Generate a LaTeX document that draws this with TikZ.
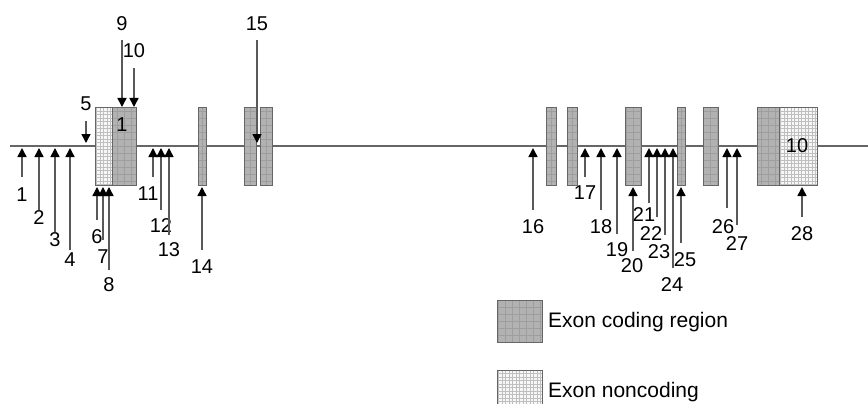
\documentclass[tikz,border=0pt]{standalone}
\usepackage{fontspec}
\setmainfont{Liberation Sans}
\usetikzlibrary{arrows.meta}
\begin{document}
\begin{tikzpicture}[x=1pt,y=-1pt,
  every node/.style={font=\fontsize{20}{22}\selectfont},
  coding/.style={draw=black!60, line width=1pt, fill=black!30, inner sep=0pt,
    path picture={\draw[black!38, line width=0.6pt, step=7pt]
      (path picture bounding box.south west) grid (path picture bounding box.north east);}},
  noncoding/.style={draw=black!60, line width=1pt, fill=black!3, inner sep=0pt,
    path picture={\draw[black!25, line width=0.5pt, step=3.5pt]
      (path picture bounding box.south west) grid (path picture bounding box.north east);}},
  arr/.style={draw=black!65, line width=1.5pt, -{Triangle[width=9pt,length=9pt,color=black]}},
  lab/.style={inner sep=0pt, text=black},
  legtext/.style={inner sep=0pt, anchor=west, font=\fontsize{21}{23}\selectfont}
]
\useasboundingbox (0,0) rectangle (868,404);
% gene line
\coordinate (L0) at (10,146);
\coordinate (L1) at (868,146);
\draw[black!60, line width=1.5pt] (L0) -- (L1);

% exons
\newcommand{\exon}[5]{\node[#1, minimum width={#4-#3}, minimum height=78] (#2) at ({(#3+#4)/2},#5) {};}
\exon{noncoding}{nc1}{95}{112}{146}
\exon{coding}{c1}{112}{136}{146}
\exon{coding}{e2}{198}{206}{146}
\exon{coding}{e3a}{244}{256}{146}
\exon{coding}{e3b}{260}{272}{146}
\exon{coding}{e4}{546}{556}{146}
\exon{coding}{e5}{567}{577}{146}
\exon{coding}{e6}{625}{641}{146}
\exon{coding}{e7}{677}{685}{146}
\exon{coding}{e8}{703}{718}{146}
\exon{coding}{c10}{757}{779}{146}
\exon{noncoding}{nc10}{779}{817}{146}
\node[lab] (x1) at (122,125) {1};
\node[lab] (x10) at (797,146) {10};

% up arrows: name/x/tail/tip/labx/laby
\foreach \n/\x/\t/\p/\lx/\ly in {
  1/22/177/148/22/195, 2/39/210/148/39/218, 3/55/232/148/55/240, 4/70/250/148/70/260,
  6/97/220/187/97/237, 7/103/240/187/103/257, 8/109/270/187/109/285,
  11/153/177/148/148/194, 12/161/210/148/161/226, 13/169/235/148/169/250,
  14/202/250/187/202/267, 16/533/210/148/533/227, 17/585/177/148/585/193,
  18/601/210/148/601/227, 19/617/234/148/617/250, 20/633/251/187/632/266,
  21/649/203/148/644/215, 22/657/217/148/651/234, 23/665/235/148/659/252,
  24/673/268/148/672/285, 25/681/243/187/685/260, 26/727/208/148/723/227,
  27/737/225/148/737/244, 28/802/217/187/802/234}{
  \coordinate (t\n) at (\x,\t);
  \coordinate (h\n) at (\x,\p);
  \draw[arr] (t\n) -- (h\n);
  \node[lab] (n\n) at (\lx,\ly) {\n};
}
% down arrows
\foreach \n/\x/\t/\p/\lx/\ly in {
  5/86/121/143/86/104, 9/122/40/107/122/24, 10/134/68/107/134/51, 15/257/40/143/257/24}{
  \coordinate (t\n) at (\x,\t);
  \coordinate (h\n) at (\x,\p);
  \draw[arr] (t\n) -- (h\n);
  \node[lab] (n\n) at (\lx,\ly) {\n};
}

% legend
\node[coding, minimum width=45, minimum height=42] (legc) at (519.5,321) {};
\node[legtext] (legct) at (548,322) {Exon coding region};
\node[noncoding, minimum width=45, minimum height=42] (legn) at (519.5,391) {};
\node[legtext] (legnt) at (548,392) {Exon noncoding};
\end{tikzpicture}
\end{document}
